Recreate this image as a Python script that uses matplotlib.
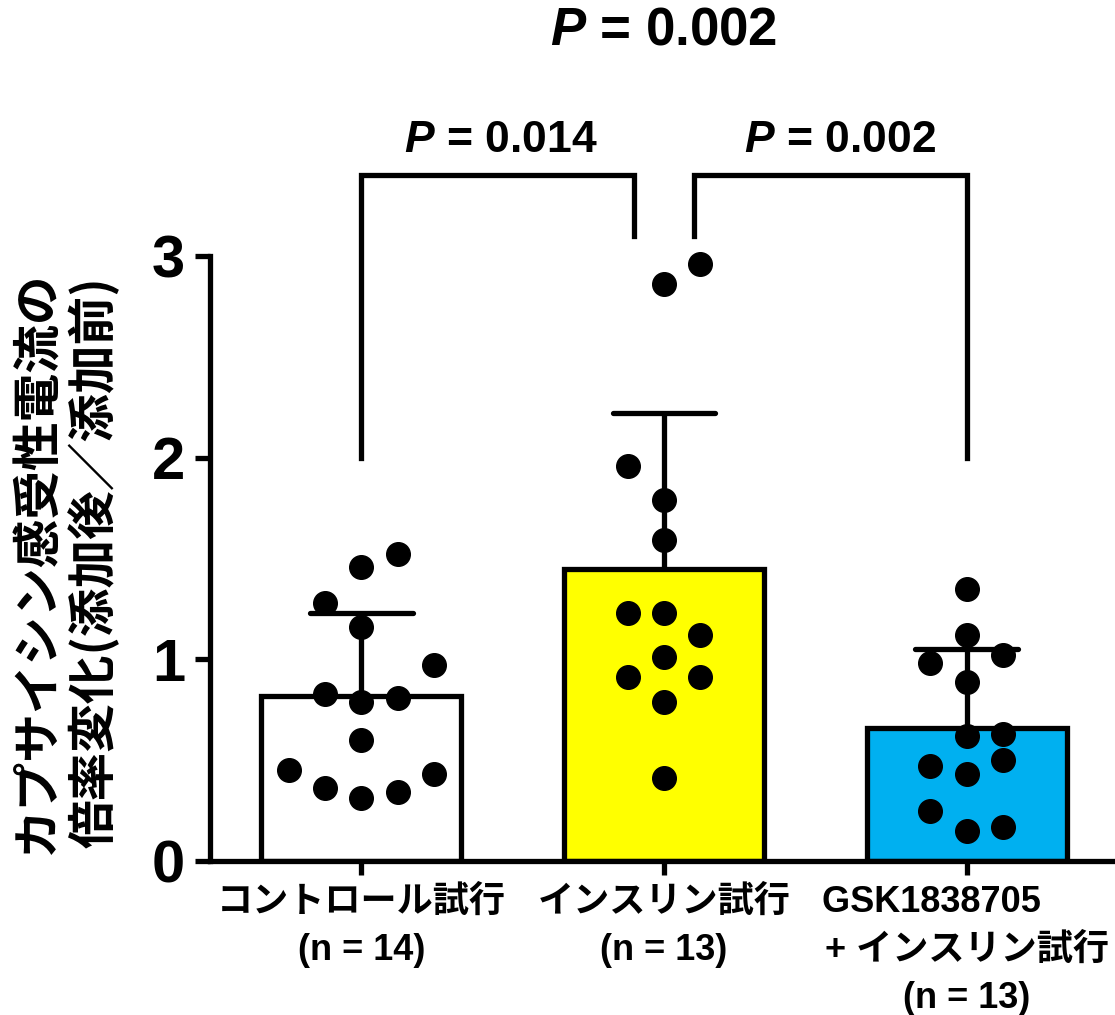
import matplotlib
matplotlib.use("Agg")
import matplotlib.pyplot as plt

plt.rcParams['font.family'] = ['Liberation Sans', 'Noto Sans CJK JP']
plt.rcParams['font.weight'] = 'bold'
plt.rcParams['mathtext.fontset'] = 'custom'
plt.rcParams['mathtext.it'] = 'Liberation Sans:italic:bold'
plt.rcParams['mathtext.rm'] = 'Liberation Sans:bold'

# groups
labels = ['コントロール試行\n(n = 14)',
          'インスリン試行\n(n = 13)',
          'GSK1838705       \n+ インスリン試行\n(n = 13)']
means = [0.82, 1.45, 0.66]
sds = [0.41, 0.77, 0.39]
colors = ['white', '#FFFF00', '#00B0F0']

# individual cells
control_vals = [1.28, 1.46, 1.52, 1.16, 0.97, 0.83, 0.79, 0.81, 0.60, 0.45, 0.36, 0.31, 0.34, 0.43]
insulin_vals = [2.86, 2.96, 1.96, 1.79, 1.59, 1.23, 1.23, 1.12, 1.01, 0.91, 0.91, 0.79, 0.41]
gsk_vals = [1.35, 1.12, 0.98, 1.02, 0.89, 0.62, 0.63, 0.47, 0.50, 0.43, 0.25, 0.15, 0.17]
# scatter column of each dot (beeswarm layout)
control_cols = [-1, 0, 1, 0, 2, -1, 0, 1, 0, -2, -1, 0, 1, 2]
insulin_cols = [0, 1, -1, 0, 0, -1, 0, 1, 0, -1, 1, 0, 0]
gsk_cols = [0, 0, -1, 1, 0, 0, 1, -1, 1, 0, -1, 0, 1]

# comparisons: (left, right, p text)
p_pairs = [(0, 1, 'P = 0.014'), (1, 2, 'P = 0.002')]
p_overall = 'P = 0.002'

LW = 3.8
fig = plt.figure(figsize=(11.15, 10.15), dpi=100)
ax = fig.add_axes([210 / 1115, 154 / 1015, 905 / 1115, 605 / 1015])

x = list(range(len(means)))
ax.bar(x, means, width=0.66, color=colors, edgecolor='black', linewidth=LW, zorder=1)

# SD (upper only)
for xi, m, s in zip(x, means, sds):
    ax.plot([xi, xi], [m, m + s], color='black', lw=LW, zorder=2, solid_capstyle='butt')
    ax.plot([xi - 0.17, xi + 0.17], [m + s, m + s], color='black', lw=LW, zorder=2,
            solid_capstyle='round')

step = 0.12
for xi, vals, cols in zip(x, [control_vals, insulin_vals, gsk_vals],
                          [control_cols, insulin_cols, gsk_cols]):
    xs = [xi + c * step for c in cols]
    ax.plot(xs, vals, 'o', color='black', markersize=17, zorder=3, clip_on=False)

# significance brackets
top, inner = 3.40, 3.10
ax.plot([0, 0, 0.9, 0.9], [2.0, top, top, inner], color='black', lw=LW, clip_on=False,
        solid_joinstyle='miter')
ax.plot([1.1, 1.1, 2, 2], [inner, top, top, 2.0], color='black', lw=LW, clip_on=False,
        solid_joinstyle='miter')

def ptext(s):
    return r'$\it{P}$' + s[1:]

ax.text(0.46, 3.515, ptext(p_pairs[0][2]), ha='center', va='baseline', fontsize=32,
        fontweight='bold', clip_on=False)
ax.text(1.58, 3.515, ptext(p_pairs[1][2]), ha='center', va='baseline', fontsize=32,
        fontweight='bold', clip_on=False)
ax.text(1.0, 4.05, ptext(p_overall), ha='center', va='baseline', fontsize=38,
        fontweight='bold', clip_on=False)

ax.set_xlim(-0.5, 2.49)
ax.set_ylim(0, 3)
ax.set_yticks([0, 1, 2, 3])
ax.set_xticks(x)
ax.set_xticklabels(labels, fontsize=26, fontweight='bold')
for lab in ax.get_xticklabels():
    lab.set_linespacing(1.48)
for lab in ax.get_yticklabels():
    lab.set_fontsize(43)
    lab.set_fontweight('bold')

ax.spines['top'].set_visible(False)
ax.spines['right'].set_visible(False)
ax.spines['left'].set_bounds(0, 3)
for sp in ['left', 'bottom']:
    ax.spines[sp].set_linewidth(LW)
ax.tick_params(axis='y', length=11, width=LW, pad=7)
ax.tick_params(axis='x', length=10, width=LW, pad=7)

fig.text(66 / 1115, 0.446, 'カプサイシン感受性電流の\n倍率変化(添加後／添加前)',
         rotation=90, ha='center', va='center', fontsize=35, fontweight='bold',
         family=['Noto Sans CJK JP', 'DejaVu Sans'], linespacing=1.15)

fig.savefig('out.png', dpi=100)
